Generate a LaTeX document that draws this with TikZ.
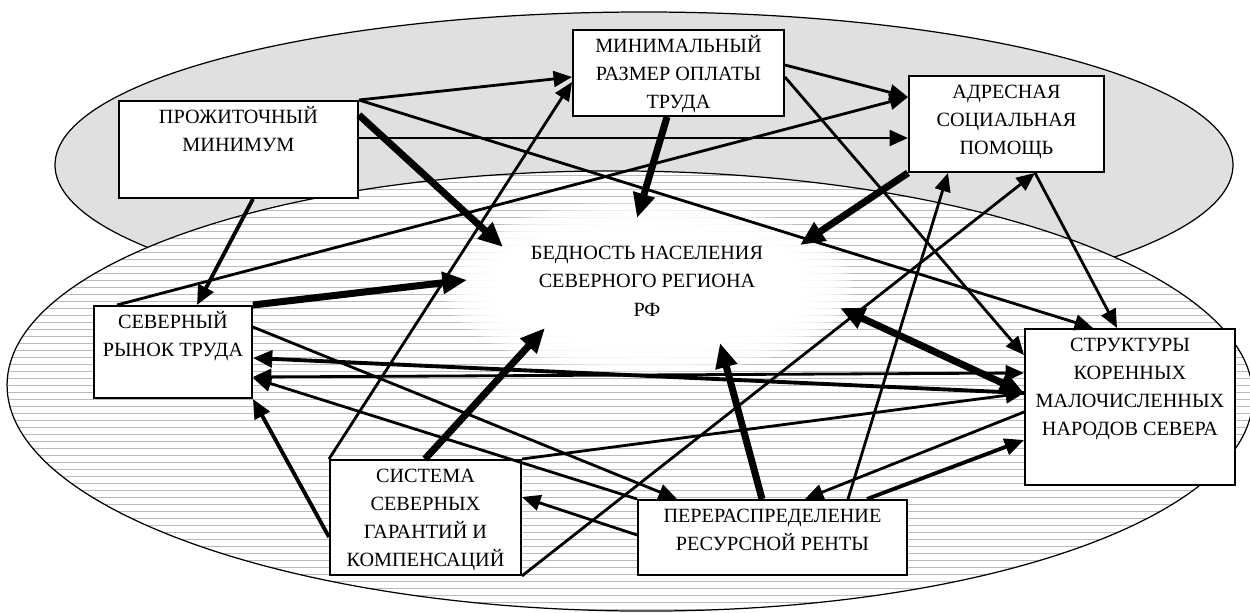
\documentclass[tikz,border=0pt]{standalone}
\usepackage{fontspec}
\setmainfont{Liberation Serif}
\usetikzlibrary{arrows.meta,calc}
\newdimen\pxu \pxu=0.02cm
\newcommand{\boxtxt}[3]{\parbox[c][#2\pxu][t]{#1\pxu}{\centering\vspace*{1.8pt}\strut#3}}
\begin{document}
\begin{tikzpicture}[x=0.02cm, y=-0.02cm,
  box/.style={draw, fill=white, line width=1.1pt, inner sep=0pt, anchor=north west,
    font=\fontsize{11.5pt}{15.9pt}\selectfont},
  lnA/.style={line width=1.6pt, -{Triangle[length=10.5pt,width=9pt]}},
  lnB/.style={line width=2.2pt, -{Triangle[length=11pt,width=9.5pt]}},
  lnC/.style={line width=4pt, -{Triangle[length=14pt,width=12pt]}},
  dblA/.style={line width=1.6pt, {Triangle[length=10.5pt,width=9pt]}-{Triangle[length=10.5pt,width=9pt]}},
  dblC/.style={line width=4pt, {Triangle[length=14pt,width=12pt]}-{Triangle[length=14pt,width=12pt]}},
  hatch/.style={line width=0.5pt, draw=black!27},
  ellline/.style={line width=0.7pt, draw=black},
  lowell/.style={rotate around={-0.6:(630,391)}}
  ]
\useasboundingbox (0,0) rectangle (1250,612);
\fill[white] (0,0) rectangle (1250,612);
% upper ellipse
\draw[ellline, fill=black!12] (644,165) ellipse [x radius=589, y radius=153];
% lower ellipse
\fill[white, lowell] (630,391) ellipse [x radius=623, y radius=220];
\begin{scope}
  \clip[lowell] (630,391) ellipse [x radius=623, y radius=220];
  \foreach \y in {168,175,...,616} \draw[hatch] (0,\y) -- (1250,\y);
\end{scope}
\draw[ellline, lowell] (630,391) ellipse [x radius=623, y radius=220];
% central fading white region
\foreach \i in {0,...,9}
  \fill[white, opacity=0.3] (648,287) ellipse [x radius={205-5*\i}, y radius={88-2.8*\i}];
\fill[white] (648,287) ellipse [x radius=152, y radius=60];

% boxes
\node[box] (pm) at (118,100) {\boxtxt{239}{97}{ПРОЖИТОЧНЫЙ\\МИНИМУМ}};
\node[box] (mrot) at (572,29) {\boxtxt{211}{86}{МИНИМАЛЬНЫЙ\\РАЗМЕР ОПЛАТЫ\\ТРУДА}};
\node[box] (adr) at (908,75) {\boxtxt{195}{96}{АДРЕСНАЯ\\СОЦИАЛЬНАЯ\\ПОМОЩЬ}};
\node[box] (sr) at (93,305) {\boxtxt{158}{92}{СЕВЕРНЫЙ\\РЫНОК ТРУДА}};
\node[box] (sis) at (329,459) {\boxtxt{191}{115}{СИСТЕМА\\СЕВЕРНЫХ\\ГАРАНТИЙ И\\КОМПЕНСАЦИЙ}};
\node[box] (pp) at (637,499) {\boxtxt{269}{75}{ПЕРЕРАСПРЕДЕЛЕНИЕ\\РЕСУРСНОЙ РЕНТЫ}};
\node[box] (str) at (1024,328) {\boxtxt{210}{156}{СТРУКТУРЫ\\КОРЕННЫХ\\МАЛОЧИСЛЕННЫХ\\НАРОДОВ СЕВЕРА}};
\node[inner sep=0pt, align=center, font=\fontsize{11.5pt}{16.2pt}\selectfont] (bed) at (647,281)
  {БЕДНОСТЬ НАСЕЛЕНИЯ\\СЕВЕРНОГО РЕГИОНА\\РФ};

% connectors
\draw[lnA] (pm.north east) -- ($(mrot.north west)+(0,48)$);
\draw[lnA] (pm.north east) -- ($(str.north west)+(69,0)$);
\draw[lnC] ($(pm.north east)+(0,15)$) -- ($(bed.center)+(-144,-34)$);
\draw[lnA] ($(pm.north east)+(0,38)$) -- ($(adr.north west)+(0,63)$);
\draw[lnB] ($(pm.south west)+(135,0)$) -- ($(sr.north west)+(104,0)$);
\draw[lnA] ($(sr.north west)+(24,0)$) -- ($(adr.north west)+(0,22)$);
\draw[lnC] (sr.north east) -- ($(bed.center)+(-180,-1)$);
\draw[lnA] ($(sr.north east)+(0,22)$) -- ($(pp.north west)+(40,0)$);
\draw[lnB] ($(str.north west)+(0,65)$) -- ($(sr.north east)+(0,53)$);
\draw[dblA] ($(sr.north east)+(0,72)$) -- ($(str.north west)+(0,45)$);
\draw[lnA] (pp.north west) -- ($(sr.north east)+(0,73)$);
\draw[lnB] ($(sis.north west)+(0,78)$) -- (sr.south east);
\draw[lnA] (sis.north west) -- ($(mrot.north west)+(0,53)$);
\draw[lnC] ($(sis.north west)+(96,0)$) -- ($(bed.center)+(-102,47)$);
\draw[lnA] (sis.north east) -- ($(str.north west)+(0,65)$);
\draw[lnA] (sis.south east) -- ($(adr.south west)+(127,0)$);
\draw[lnA] ($(pp.north west)+(0,36)$) -- ($(sis.north east)+(0,38)$);
\draw[lnC] ($(pp.north west)+(125,0)$) -- ($(bed.center)+(73,62)$);
\draw[lnA] ($(pp.north west)+(211,0)$) -- ($(adr.south west)+(40,0)$);
\draw[lnA] ($(str.north west)+(0,84)$) -- ($(pp.north west)+(168,0)$);
\draw[lnB] ($(pp.north west)+(230,0)$) -- ($(str.north west)+(0,112)$);
\draw[lnC] (adr.south west) -- ($(bed.center)+(153,-36)$);
\draw[lnA] ($(adr.south west)+(127,0)$) -- ($(str.north west)+(93,0)$);
\draw[lnC] ($(mrot.south west)+(95,0)$) -- ($(bed.center)+(-10,-63)$);
\draw[lnA] ($(mrot.north east)+(0,36)$) -- ($(adr.north west)+(0,22)$);
\draw[lnA] ($(mrot.north east)+(0,48)$) -- ($(str.north west)+(0,27)$);
\draw[dblC] ($(bed.center)+(193,27)$) -- ($(str.north west)+(0,65)$);
\end{tikzpicture}
\end{document}
